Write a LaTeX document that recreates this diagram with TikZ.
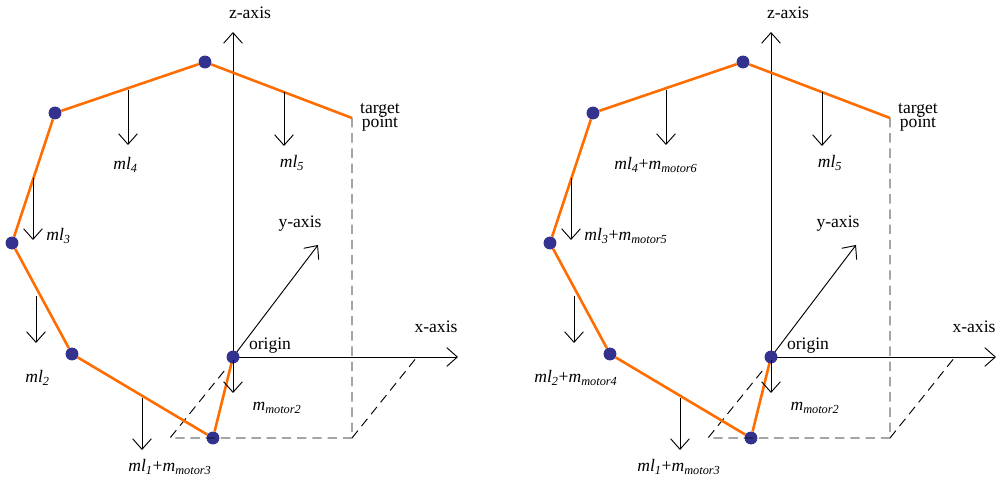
\documentclass[tikz,border=0pt]{standalone}
\usepackage{fontspec}
\setmainfont{Liberation Serif}
\usetikzlibrary{arrows.meta}
\newcommand{\ml}[1]{\textit{ml}\textsubscript{\textit{#1}}}
\newcommand{\mm}[1]{\textit{m}\textsubscript{\textit{motor#1}}}
% one panel: labels of ml4, ml3, ml2, ml1 and x where they start
\newcommand{\armpanel}[8]{
  \coordinate (o) at (233,357);
  \node[dot] (j1) at (213,438) {};
  \node[dot] (j2) at (72,354) {};
  \node[dot] (j3) at (12,243) {};
  \node[dot] (j4) at (55,113) {};
  \node[dot] (j5) at (205,62) {};
  \coordinate (tp) at (352,118);
  \draw[axis] (o) -- (233,32) coordinate (z);
  \draw[axis] (o) -- (458,357) coordinate (x);
  \draw[axis] (o) -- (318,245) coordinate (y);
  \draw[dashline] (tp) -- (352,438) coordinate (c1) -- (170,438) -- (225,370);
  \draw[dashline] (c1) -- (417,357);
  \draw[link] (o) -- (j1) -- (j2) -- (j3) -- (j4) -- (j5) -- (tp);
  \node[dot] (j0) at (o) {};
  \draw[weight] (233,360) -- (233,393);
  \draw[weight] (142,398) -- (142,450);
  \draw[weight] (36,296) -- (36,343);
  \draw[weight] (33,178) -- (33,240);
  \draw[weight] (128,90) -- (128,145);
  \draw[weight] (284,92) -- (284,146);
  \node[lbl] (lz) at (250,13) {z-axis};
  \node[lbl] (lx) at (436,327) {x-axis};
  \node[lbl] (ly) at (300,224) {y-axis};
  \node[lbl] (lo) at (270,346) {origin};
  \node[lbl, align=center] (lt) at (380,117) {target\\[-4pt]point};
  \node[lbl] (l5) at (292,163) {\ml{5}};
  \node[lbl, anchor=west] (l4) at (#5,165) {#1};
  \node[lbl, anchor=west] (l3) at (#6,236) {#2};
  \node[lbl, anchor=west] (l2) at (#7,378) {#3};
  \node[lbl, anchor=west] (l1) at (#8,467) {#4};
  \node[lbl] (lm2) at (277,408) {\mm{2}};
}
\begin{document}
\begin{tikzpicture}[
  x = 0.03cm, y = -0.03cm,
  dot/.style = {
    shape = circle,
    fill = blue!45!black!80,
    minimum size = 11pt,
    inner sep = 0pt
  },
  axis/.style = {thick, -{Straight Barb[length=9pt, width=16pt]}},
  weight/.style = {thick, -{Straight Barb[length=9pt, width=16pt]}},
  dashline/.style = {thick, dash pattern = on 8pt off 5pt},
  link/.style = {draw = orange!85!red, line width = 2.2pt},
  lbl/.style = {font = \fontsize{15}{16}\selectfont, inner sep = 1pt}
]
  \useasboundingbox (0,0) rectangle (1000,482);
  \begin{scope}
    \armpanel{\ml{4}}{\ml{3}}{\ml{2}}{\ml{1}+\mm{3}}{112}{45}{24}{127}
  \end{scope}
  \begin{scope}[xshift = 538*0.03cm]
    \armpanel{\ml{4}+\mm{6}}{\ml{3}+\mm{5}}{\ml{2}+\mm{4}}{\ml{1}+\mm{3}}{75}{45}{-5}{98}
  \end{scope}
\end{tikzpicture}
\end{document}
